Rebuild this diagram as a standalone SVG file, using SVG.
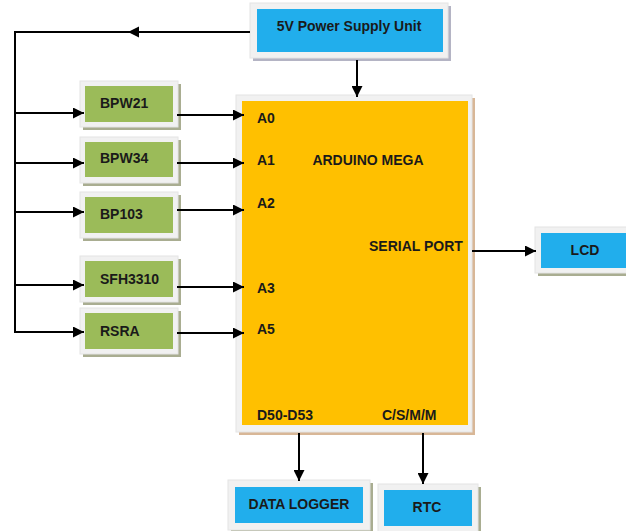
<svg xmlns="http://www.w3.org/2000/svg" width="626" height="531" viewBox="0 0 626 531">
<defs>
<marker id="ah" markerUnits="userSpaceOnUse" markerWidth="12" markerHeight="11" refX="11" refY="5.5" orient="auto">
<path d="M0,0 L11,5.5 L0,11 Z" fill="#000"/>
</marker>
</defs>
<style>
.frame{fill:#f1f1f1;stroke:#e4e4e4;stroke-width:1}
.gsh{fill:#a9ad91}
.bsh{fill:#a9ad91}
.green{fill:#9bbb59}
.blue{fill:#21aeec}
.orange{fill:#ffc000}
.t{font-family:"Liberation Sans",Arial,sans-serif;font-weight:bold;font-size:14px;fill:#1a1a1a}
.c{text-anchor:middle}
.ln{stroke:#000;stroke-width:2;fill:none}
</style>
<rect width="626" height="531" fill="#fff"/>

<g id="power">
<rect x="253" y="6" width="198" height="55" fill="#b4b4c4"/>
<rect class="frame" x="250" y="3" width="198" height="55"/>
<rect class="blue" x="257" y="9" width="186" height="43"/>
<text class="t c" x="349" y="31">5V Power Supply Unit</text>
</g>

<g id="arduino">
<rect x="239" y="98" width="236" height="337" fill="#d8b797"/>
<rect class="frame" x="236" y="95" width="236" height="337"/>
<rect class="orange" x="242" y="101" width="226" height="324"/>
<text class="t c" x="368" y="165">ARDUINO MEGA</text>
<text class="t" x="257" y="123">A0</text>
<text class="t" x="257" y="165">A1</text>
<text class="t" x="257" y="208">A2</text>
<text class="t" x="257" y="293">A3</text>
<text class="t" x="257" y="334">A5</text>
<text class="t" x="369" y="251">SERIAL PORT</text>
<text class="t" x="257" y="420">D50-D53</text>
<text class="t" x="382" y="420">C/S/M/M</text>
</g>

<g id="bpw21">
<rect class="gsh" x="83" y="84" width="98" height="46"/>
<rect class="frame" x="80" y="81" width="98" height="46"/>
<rect class="green" x="85" y="86" width="88" height="36"/>
<text class="t" x="100" y="108">BPW21</text>
</g>
<g id="bpw34">
<rect class="gsh" x="83" y="140" width="98" height="46"/>
<rect class="frame" x="80" y="137" width="98" height="46"/>
<rect class="green" x="85" y="142" width="88" height="35"/>
<text class="t" x="100" y="163">BPW34</text>
</g>
<g id="bp103">
<rect class="gsh" x="83" y="195" width="98" height="46"/>
<rect class="frame" x="80" y="192" width="98" height="46"/>
<rect class="green" x="85" y="197" width="88" height="36"/>
<text class="t" x="100" y="219">BP103</text>
</g>
<g id="sfh3310">
<rect class="gsh" x="83" y="259" width="98" height="46"/>
<rect class="frame" x="80" y="256" width="98" height="46"/>
<rect class="green" x="85" y="261" width="88" height="36"/>
<text class="t" x="100" y="284">SFH3310</text>
</g>
<g id="rsra">
<rect class="gsh" x="83" y="311" width="98" height="46"/>
<rect class="frame" x="80" y="308" width="98" height="46"/>
<rect class="green" x="85" y="313" width="88" height="36"/>
<text class="t" x="100" y="336">RSRA</text>
</g>

<g id="lcd">
<rect class="bsh" x="538" y="238" width="92" height="38"/>
<rect class="frame" x="535" y="227" width="95" height="46"/>
<rect class="blue" x="541" y="233" width="90" height="35"/>
<text class="t c" x="585" y="255">LCD</text>
</g>

<g id="datalogger">
<rect class="bsh" x="231" y="483" width="142" height="52"/>
<rect class="frame" x="228" y="480" width="142" height="50"/>
<rect class="blue" x="235" y="487" width="128" height="36"/>
<text class="t c" x="299" y="509">DATA LOGGER</text>
</g>

<g id="rtc">
<rect class="bsh" x="381" y="487" width="100" height="48"/>
<rect class="frame" x="378" y="484" width="100" height="50"/>
<rect class="blue" x="384" y="490" width="88" height="36"/>
<text class="t c" x="427" y="512">RTC</text>
</g>

<g id="connectors">
<polyline class="ln" points="250,32 15,32 15,333"/>
<path d="M128,32 L139,26.5 L139,37.5 Z" fill="#000"/>
<line class="ln" x1="357" y1="60" x2="357" y2="97" marker-end="url(#ah)"/>
<line class="ln" x1="15" y1="113" x2="84" y2="113" marker-end="url(#ah)"/>
<line class="ln" x1="15" y1="163" x2="84" y2="163" marker-end="url(#ah)"/>
<line class="ln" x1="15" y1="212" x2="84" y2="212" marker-end="url(#ah)"/>
<line class="ln" x1="15" y1="285" x2="84" y2="285" marker-end="url(#ah)"/>
<line class="ln" x1="14" y1="332" x2="84" y2="332" marker-end="url(#ah)"/>
<line class="ln" x1="177" y1="115" x2="244" y2="115" marker-end="url(#ah)"/>
<line class="ln" x1="177" y1="163" x2="244" y2="163" marker-end="url(#ah)"/>
<line class="ln" x1="177" y1="210" x2="244" y2="210" marker-end="url(#ah)"/>
<line class="ln" x1="177" y1="287" x2="244" y2="287" marker-end="url(#ah)"/>
<line class="ln" x1="177" y1="333" x2="244" y2="333" marker-end="url(#ah)"/>
<line class="ln" x1="472" y1="251" x2="536" y2="251" marker-end="url(#ah)"/>
<line class="ln" x1="299" y1="433" x2="299" y2="481" marker-end="url(#ah)"/>
<line class="ln" x1="423" y1="433" x2="423" y2="484" marker-end="url(#ah)"/>
</g>
</svg>
